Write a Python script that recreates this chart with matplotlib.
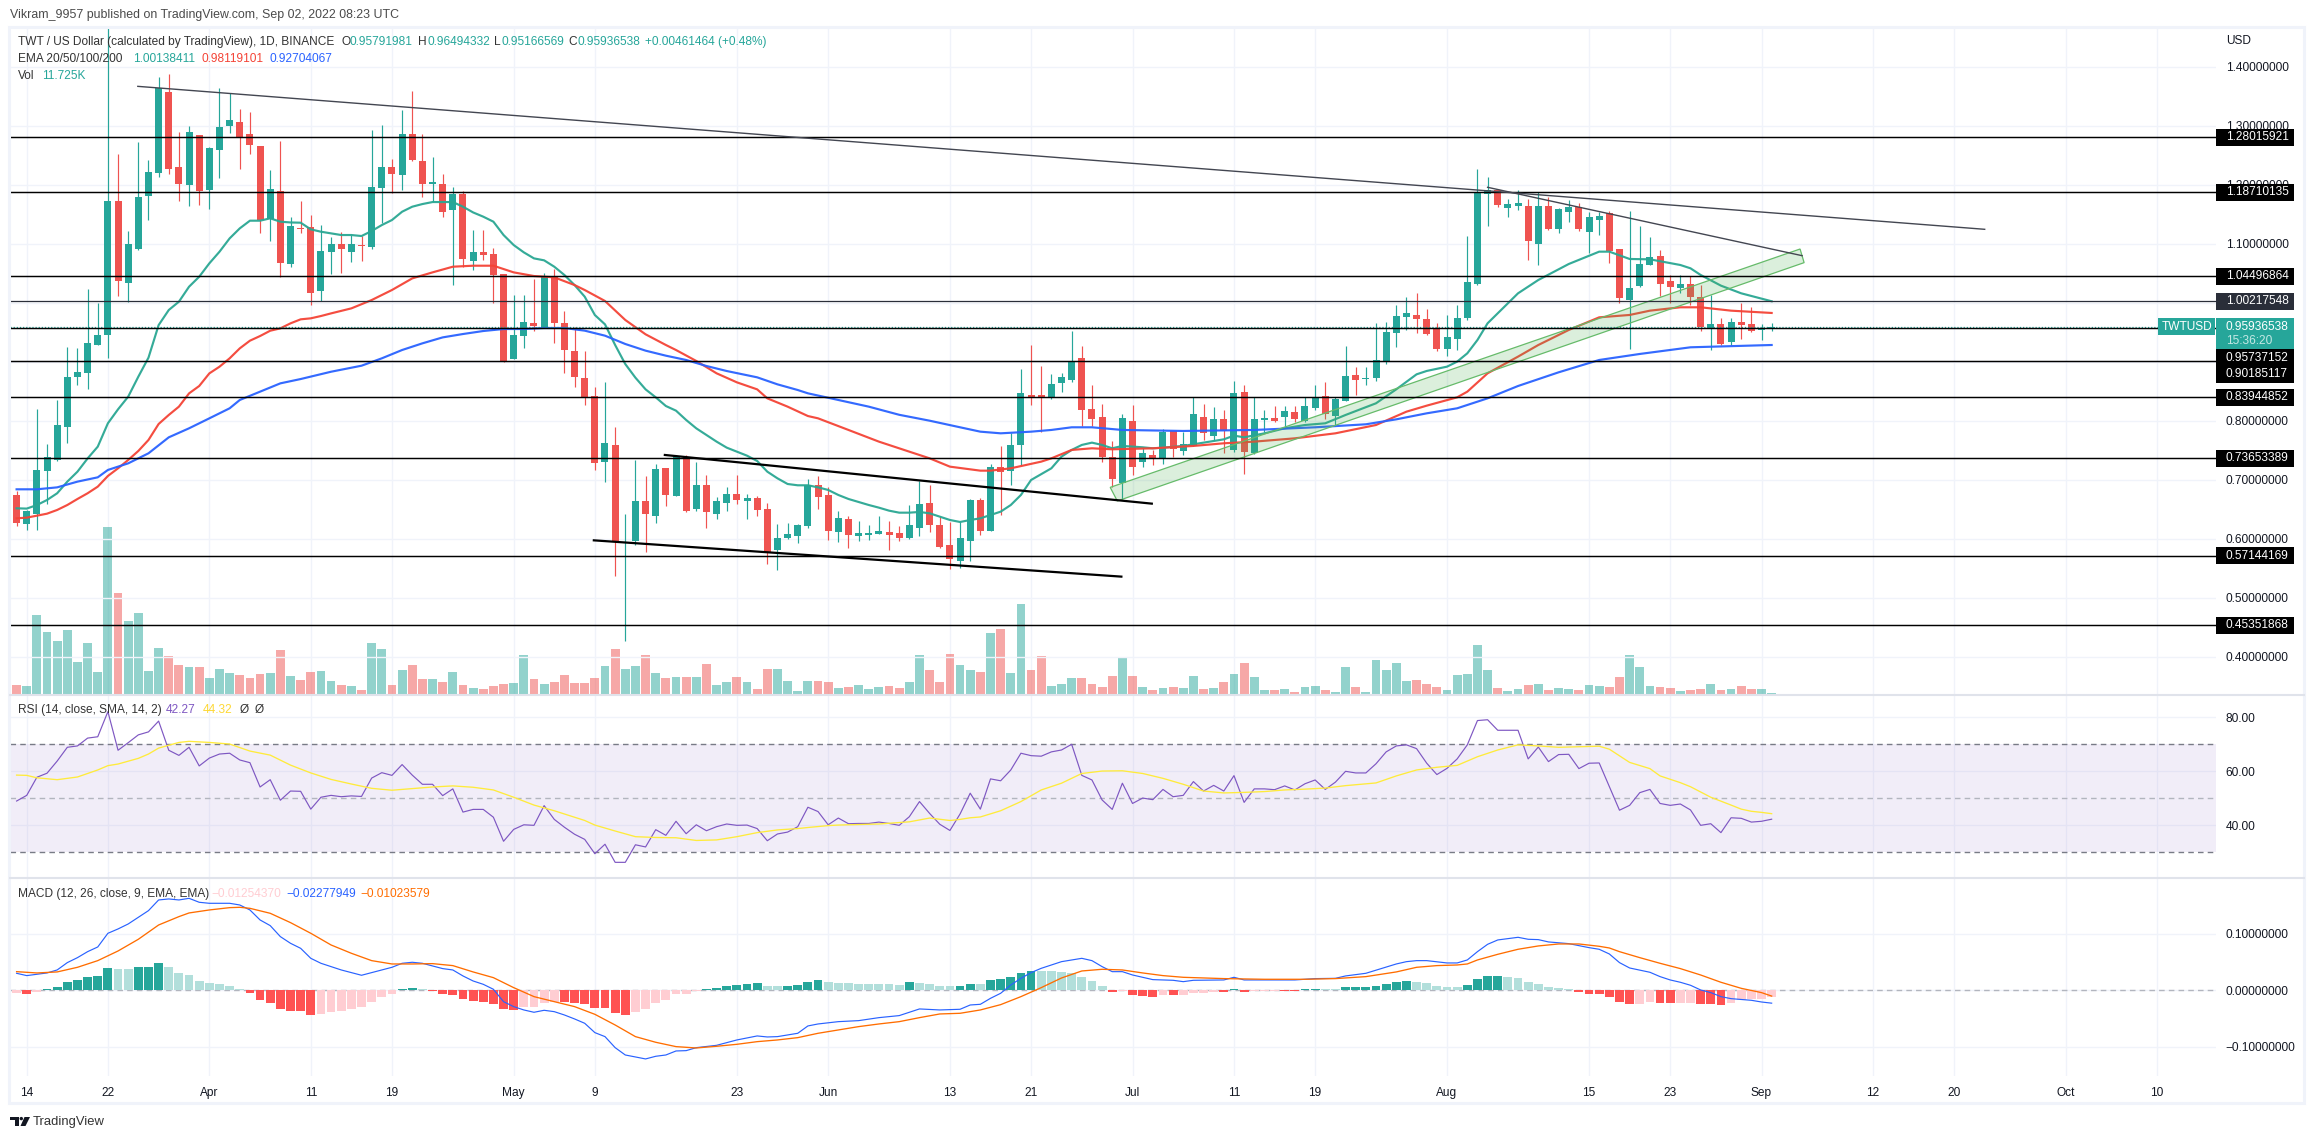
import numpy as np
import matplotlib
matplotlib.use('Agg')
import matplotlib.pyplot as plt
from matplotlib.patches import Rectangle, Circle, Polygon

plt.rcParams['font.family'] = ['Liberation Sans', 'DejaVu Sans']

# daily candles, 13 Mar to 2 Sep 2022
opens = [.674,.625,.642,.715,.733,.790,.8746,.8814,.9288,.9452,1.1723,1.034,1.0915,1.1814,1.2198,1.357,1.230,1.1994,1.284,1.191,
 1.2588,1.2994,1.3062,1.2859,1.2655,1.1418,1.1893,1.0655,1.1266,1.1282,1.0198,1.0859,1.0994,1.0859,1.0972,1.0944,1.1944,1.2299,1.2164,1.2859,
 1.2401,1.2011,1.2011,1.157,1.1842,1.0706,1.0859,1.0825,1.0486,.9051,.9435,.9655,.9576,1.0446,.9655,.918,.8723,.8418,.7306,.7588,
 .592,.5961,.6639,.6385,.7198,.6724,.7385,.6504,.691,.6419,.6605,.6758,.6639,.669,.6504,.5809,.6012,.6046,.6215,.691,
 .6741,.6114,.6334,.6046,.6063,.608,.6114,.6097,.6012,.6181,.6605,.6232,.5893,.5622,.5961,.6656,.613,.7215,.7148,.7588,
 .8435,.8435,.8379,.864,.869,.9063,.8199,.8063,.7385,.695,.7995,.7306,.7419,.7368,.7826,.7487,.7571,.8063,.7741,.8029,
 .7504,.8487,.7453,.8012,.8046,.8069,.8148,.7995,.8216,.8419,.808,.8334,.8775,.8702,.8724,.9012,.9487,.9758,.9792,.9724,
 .9554,.9216,.9385,.9741,1.0317,1.1843,1.191,1.1605,1.164,1.1639,1.0995,1.1639,1.125,1.1538,1.1622,1.1199,1.1402,1.1521,1.091,1.0046,
 1.0283,1.0639,1.0792,1.0368,1.0249,1.0317,1.0097,.9572,.9639,.9334,.9673,.9639,.9532,.95791981]
highs = [.680,.648,.82,.7605,.835,.925,.9226,1.0226,1.0,1.4673,1.252,1.1215,1.272,1.242,1.3825,1.3876,1.2893,1.2994,1.284,1.2644,
 1.3638,1.355,1.3282,1.3232,1.2655,1.2249,1.274,1.1452,1.1723,1.1486,1.1316,1.1107,1.1203,1.114,1.1136,1.2927,1.3011,1.2435,1.3266,1.3593,
 1.2859,1.2469,1.2186,1.196,1.1893,1.1232,1.1232,1.0927,1.0486,1.013,1.013,1.0401,1.0497,1.0576,.9859,.9594,.9181,.8571,.8656,.7893,
 .6419,.7334,.7063,.7266,.7198,.7419,.7419,.73,.708,.6707,.6876,.708,.6758,.6724,.6605,.6249,.6266,.6249,.7012,.7063,
 .6871,.647,.6385,.63,.6232,.6385,.63,.6215,.6571,.6978,.691,.6385,.6283,.6283,.6673,.669,.7266,.7571,.7786,.8876,
 .9283,.8927,.8792,.8803,.9521,.9266,.8605,.8283,.7656,.8114,.8266,.7537,.7504,.786,.7826,.7809,.8402,.8283,.8238,.8182,
 .8673,.8605,.8402,.8182,.8249,.8249,.8249,.8402,.8605,.8656,.8402,.9266,.891,.891,.9656,.9673,.9961,1.0102,1.0165,.9893,
 .9656,.9792,.9961,1.1131,1.2266,1.2137,1.191,1.1758,1.191,1.1758,1.1877,1.1798,1.16,1.1741,1.1685,1.1538,1.1538,1.1555,1.091,1.1555,
 1.13,1.1114,1.0894,1.047,1.047,1.0453,1.03,1.013,.9741,.9741,.9995,.9927,.9639,.96494332]
lows = [.6215,.615,.615,.659,.732,.763,.8605,.8542,.928,.907,1.011,1.002,1.09,1.14,1.213,1.2187,1.1723,1.164,1.1655,1.1588,
 1.2113,1.2876,1.2266,1.252,1.118,1.1045,1.043,1.0605,1.118,.9966,1.0028,1.0486,1.0497,1.0695,1.0706,1.0915,1.1345,1.1864,1.191,1.24,
 1.1791,1.1706,1.1452,1.03,1.061,1.0554,1.0723,.9994,.9,.9045,.923,.952,.9565,.9316,.8808,.8571,.8266,.717,.6967,.5374,
 .4272,.5893,.5775,.6266,.6554,.672,.6453,.647,.6181,.6334,.647,.6588,.6334,.6385,.5571,.5469,.6,.5927,.6181,.6503,
 .5978,.5944,.5843,.5961,.5978,.608,.5809,.5961,.6,.6046,.6114,.585,.5487,.5503,.5622,.6063,.613,.6402,.691,.7249,
 .8266,.7814,.8367,.8481,.8662,.791,.791,.7306,.6882,.6656,.708,.7221,.7249,.7266,.7379,.7419,.7571,.7673,.7673,.7458,
 .747,.7097,.7436,.7809,.7978,.7899,.7978,.7978,.8182,.8029,.791,.8334,.8436,.8605,.8673,.8961,.9249,.9537,.9481,.945,
 .9182,.9097,.9199,.9707,1.03,1.13,1.1622,1.1453,1.1572,1.0724,1.0639,1.124,1.1182,1.1368,1.1216,1.0843,1.1148,1.0673,.9995,.9216,
 1.0266,1.0639,1.0114,.9992,1.0159,.9961,.9521,.9199,.929,.9283,.9391,.9504,.9368,.95166569]
closes = [.6266,.647,.7165,.738,.7927,.874,.8825,.9316,.9452,1.1723,1.0367,1.099,1.179,1.2215,1.3644,1.2266,1.201,1.2893,1.1893,1.2621,
 1.2977,1.3096,1.2802,1.2672,1.1401,1.1927,1.0672,1.13,1.1255,1.0164,1.0876,1.0994,1.091,1.0994,1.0955,1.196,1.2299,1.218,1.2859,1.2418,
 1.2011,1.204,1.1537,1.1842,1.074,1.0859,1.0808,1.0469,.9017,.9452,.9672,.9605,1.0446,.9655,.9198,.874,.8401,.7278,.7622,.5939,
 .595,.6639,.6419,.7181,.6741,.7385,.647,.691,.6453,.6639,.6758,.6656,.669,.6487,.5775,.6012,.608,.6232,.691,.6707,
 .6131,.6351,.6063,.6097,.6097,.613,.6063,.6012,.6232,.6588,.6232,.5859,.5656,.6012,.6656,.613,.7215,.7131,.7588,.8469,
 .8396,.8384,.8622,.8741,.8995,.8182,.8029,.7385,.7012,.8046,.7221,.7453,.7368,.7809,.7521,.7605,.8114,.7792,.8029,.7826,
 .847,.747,.8029,.8046,.7995,.8165,.8029,.8249,.8402,.8114,.8368,.8758,.869,.8724,.9029,.9504,.9775,.9826,.9724,.947,
 .9216,.9419,.9741,1.0351,1.186,1.191,1.1656,1.1673,1.169,1.1046,1.1639,1.125,1.1589,1.1622,1.125,1.1453,1.147,1.0877,1.008,1.025,
 1.0656,1.0775,1.0317,1.0266,1.0317,1.0097,.9589,.9639,.93,.9673,.9622,.9521,.9555,.95936538]
# volume in thousands
volumes = [75,67,635,499,427,515,259,411,179,1339,811,587,651,187,371,307,235,219,219,131,
 203,171,155,131,163,171,355,147,115,179,187,107,75,67,35,411,363,75,195,235,
 123,123,99,179,75,51,43,67,83,91,315,123,83,99,155,91,91,131,227,363,
 203,227,315,171,131,139,139,139,243,75,99,139,99,43,203,203,107,27,107,107,
 99,51,59,75,43,59,67,51,99,315,195,99,323,235,195,179,491,523,171,723,
 195,307,67,83,131,131,83,59,147,291,147,59,35,51,59,51,147,48,56,104,
 168,256,144,40,40,48,24,64,72,40,24,224,64,24,280,200,256,112,120,88,
 64,40,160,168,400,200,56,32,48,80,88,40,56,48,40,80,72,64,144,320,
 224,72,64,56,32,40,48,88,40,48,72,48,48,11.7]

# EMA lines, read at the listed bars
ema20_bars = [0,1,2,3,4,5,6,7,8,9,10,11,12,13,14,15,16,17,18,19,20,21,22,23,24,25,26,27,28,29,30,31,32,33,34,35,36,37,38,39,40,41,42,43,44,45,46,47,48,49,50,51,52,53,54,55,56,57,58,59,60,61,62,63,64,65,66,67,68,69,70,71,72,73,74,75,76,77,78,79,80,81,82,83,84,85,86,87,88,89,90,91,92,93,94,95,96,97,98,99,100,102,103,104,105,106,107,108,109,110,111,112,113,115,117,119,120,121,123,125,127,129,131,134,136,138,139,141,142,143,144,145,148,150,153,156,157,159,161,164,165,166,168,170,173]
ema20 = [.6515,.651,.657,.6656,.677,.6967,.7136,.736,.756,.7956,.8193,.8407,.8746,.9068,.962,.9876,1.0017,1.0271,1.044,1.0667,1.0864,1.109,1.126,1.139,1.139,1.143,1.1373,1.136,1.1356,1.1243,1.1203,1.1175,1.1147,1.1147,1.113,1.1215,1.1316,1.1401,1.1542,1.1627,1.1672,1.1706,1.1706,1.1706,1.1627,1.153,1.1458,1.1373,1.1147,1.0977,1.0853,1.0751,1.0718,1.061,1.0469,1.0299,1.0102,.9791,.9633,.9283,.896,.8729,.8531,.8396,.8249,.817,.8012,.787,.7758,.7645,.7543,.7475,.7407,.7317,.7136,.7023,.6927,.6905,.6905,.687,.6826,.6741,.6673,.6622,.6571,.6526,.6475,.6441,.6441,.6453,.643,.6374,.6317,.6283,.6317,.6345,.6402,.6458,.6571,.6741,.6995,.7193,.7391,.7504,.7589,.7628,.7589,.7532,.7572,.756,.7549,.7532,.7543,.7572,.7628,.7684,.7747,.7718,.7786,.7871,.7927,.7956,.8097,.8295,.8532,.8786,.8843,.8916,.9001,.9142,.9368,.9651,1.0159,1.0385,1.0656,1.0865,1.0865,1.0741,1.0735,1.0639,1.0583,1.047,1.0289,1.0159,1.0024]
ema50_bars = [0,1,2,3,4,5,6,7,8,9,10,11,12,13,14,15,16,17,18,19,20,21,22,23,24,25,26,27,28,29,30,31,33,35,37,39,41,43,45,47,49,51,53,55,56,58,60,62,64,65,67,69,71,73,74,76,78,79,82,85,88,90,92,95,96,98,101,102,104,106,108,112,116,119,122,126,130,134,137,139,142,143,145,148,150,153,156,159,161,164,166,169,173]
ema50 = [.6345,.6357,.639,.6424,.6487,.6571,.6673,.677,.6882,.7063,.7193,.7334,.7487,.7673,.7944,.8097,.8238,.8463,.8588,.8802,.8915,.9057,.9226,.9356,.9435,.9525,.9565,.965,.9718,.9735,.9774,.9819,.9904,1.0045,1.0215,1.0412,1.0514,1.061,1.0627,1.0627,1.0514,1.0452,1.043,1.0299,1.0215,1.0029,.9707,.9464,.9283,.9198,.9012,.8803,.865,.8531,.8379,.8238,.8079,.804,.7843,.7645,.7475,.7362,.7221,.7153,.7153,.7193,.7306,.7362,.7504,.7532,.7515,.7532,.7572,.7617,.7645,.7701,.7786,.7927,.8153,.8255,.8396,.8492,.8803,.9086,.9283,.9538,.9752,.9792,.9865,.9922,.9922,.9865,.9826]
ema200_bars = [0,2,4,6,8,9,11,13,15,17,19,21,22,24,26,28,31,34,36,38,40,42,44,46,48,50,52,54,56,58,60,62,64,66,68,70,73,75,77,78,81,84,87,90,93,95,97,100,102,104,106,109,115,122,128,133,136,139,142,145,148,152,156,160,165,173]
ema200 = [.6837,.6837,.687,.6967,.704,.7165,.7277,.7447,.7718,.7871,.804,.821,.8351,.8492,.8633,.8706,.883,.8932,.9057,.9198,.9311,.9412,.9469,.952,.9554,.9554,.9571,.9571,.9526,.9441,.93,.9187,.9102,.9029,.8927,.8842,.8735,.8616,.852,.8464,.8351,.8238,.81,.8,.7888,.7814,.7786,.7814,.7843,.7888,.7888,.7843,.7826,.7843,.7888,.7939,.8023,.8125,.821,.8379,.8588,.882,.9029,.9131,.9244,.9283]

# RSI and its moving average
rsi = [49.0,51.1,57.8,59.3,63.8,68.9,69.4,72.3,72.8,82.1,67.8,70.6,73.5,74.6,78.6,67.8,65.9,68.9,62.0,64.9,
 66.4,66.7,64.2,63.2,54.2,56.9,49.3,52.7,52.6,46.0,50.4,51.1,50.6,50.9,50.7,57.5,59.5,58.5,62.5,58.6,
 55.2,55.2,51.0,53.5,44.9,45.9,45.9,43.0,34.1,38.5,40.2,40.0,47.3,42.2,39.3,36.7,34.8,29.5,33.0,26.3,
 26.3,32.8,32.0,38.4,36.3,41.5,36.9,40.2,38.0,39.5,40.5,40.0,40.1,38.8,34.3,36.8,37.5,39.5,46.7,45.1,
 40.2,42.7,40.6,40.7,40.7,41.2,40.7,40.0,43.2,48.8,44.4,40.4,38.1,44.2,51.9,46.0,57.2,56.5,60.5,66.7,
 65.8,65.6,67.2,67.9,70.0,58.5,56.8,49.4,45.9,55.6,48.1,50.1,49.5,53.3,50.6,51.1,56.2,52.7,54.8,52.7,
 58.4,48.5,53.5,53.5,53.2,54.6,53.1,55.4,56.8,53.3,56.0,60.0,59.4,59.4,62.8,67.2,69.4,69.8,68.4,63.0,
 58.8,61.1,64.6,69.8,78.8,79.1,75.2,75.2,75.2,64.6,69.0,63.6,66.2,66.3,61.0,63.0,63.1,54.3,45.6,47.4,
 52.1,53.3,48.1,47.4,47.9,45.7,40.0,40.6,37.3,42.8,42.6,41.2,41.5,42.27]
rsi_ma_bars = [0,1,2,4,6,8,9,10,12,13,14,16,17,19,21,23,25,27,29,31,33,35,37,39,41,43,45,47,49,51,53,55,56,57,59,61,63,65,67,69,71,73,75,77,78,80,81,85,88,90,92,93,94,95,97,99,101,103,105,107,109,111,113,115,117,119,121,123,125,127,129,131,134,136,138,140,142,144,146,148,150,152,154,156,157,159,161,162,164,165,167,169,170,171,172,173]
rsi_ma = [58.6,58.5,57.6,56.9,57.9,60.5,62.1,62.7,64.8,66.4,68.6,70.7,71.1,70.7,70.1,67.5,66.0,62.3,59.4,57.0,55.3,53.7,53.0,53.6,54.2,54.6,54.1,53.1,50.4,47.5,45.4,43.0,41.8,40.1,37.9,35.8,35.5,35.4,34.4,34.6,35.8,37.3,38.3,38.8,39.2,39.9,40.1,40.5,41.3,42.7,41.8,42.2,42.8,43.1,45.4,48.8,53.1,55.6,59.2,60.1,60.2,59.2,57.4,55.2,52.7,52.0,52.2,52.5,53.1,53.4,53.8,54.7,55.7,58.3,60.5,61.5,62.2,65.4,67.9,69.8,69.4,68.9,69.1,69.3,68.2,63.3,61.0,58.3,55.8,54.3,50.4,47.5,46.0,45.2,44.8,44.32]

# MACD histogram and lines
macd_hist = [-.0053,-.0065,-.0030,.0024,.0059,.0148,.0183,.0236,.0254,.0395,.0378,.0375,.0413,.0416,.0484,.0413,.0307,.0271,.0165,.0130,
 .0112,.0077,.0024,-.0047,-.0171,-.0224,-.0330,-.0366,-.0369,-.0437,-.0419,-.0384,-.0366,-.0330,-.0295,-.0207,-.0118,-.0065,.0024,.0041,
 .0024,-.0006,-.0065,-.0083,-.0153,-.0189,-.0207,-.0242,-.0330,-.0348,-.0295,-.0289,-.0224,-.0207,-.0212,-.0227,-.0242,-.0313,-.0319,-.0401,
 -.0437,-.0384,-.0330,-.0224,-.0171,-.0065,-.0059,-.0012,.0024,.0041,.0077,.0094,.0112,.0130,.0077,.0074,.0077,.0094,.0148,.0183,
 .0148,.0130,.0124,.0112,.0109,.0106,.0103,.0100,.0148,.0130,.0112,.0077,.0071,.0077,.0112,.0106,.0183,.0201,.0236,.0307,
 .0342,.0339,.0336,.0319,.0307,.0236,.0165,.0077,-.0030,-.0012,-.0083,-.0100,-.0118,-.0083,-.0089,-.0083,-.0047,-.0044,-.0030,-.0035,
 .0024,-.0030,-.0012,-.0009,-.0006,-.0012,-.0018,.0024,.0027,.0024,.0020,.0059,.0062,.0065,.0077,.0112,.0148,.0165,.0148,.0130,
 .0077,.0059,.0057,.0094,.0201,.0254,.0257,.0236,.0218,.0148,.0112,.0059,.0041,.0024,-.0024,-.0059,-.0062,-.0112,-.0207,-.0242,
 -.0236,-.0207,-.0224,-.0230,-.0224,-.0221,-.0242,-.0245,-.0260,-.0224,-.0171,-.0153,-.0148,-.0125]
macd_bars = [0,1,3,4,5,6,7,8,9,10,11,12,13,14,15,16,17,18,19,21,22,23,24,25,26,27,28,29,30,32,34,36,37,38,39,40,42,43,44,45,46,47,48,49,50,51,52,53,54,55,56,57,58,59,60,61,62,63,64,65,66,67,69,71,73,74,75,77,78,79,81,83,85,87,89,91,93,94,95,96,97,98,99,100,101,103,105,106,107,108,109,110,112,114,115,116,119,120,121,124,126,128,130,131,133,136,137,138,139,141,142,143,144,145,146,147,148,149,150,151,153,155,156,157,158,159,161,162,163,164,165,166,167,168,169,171,172,173]
macd_line = [.0301,.0260,.0307,.0360,.0490,.0578,.0684,.0767,.1009,.1086,.1174,.1292,.1410,.1599,.1617,.1599,.1628,.1558,.1540,.1540,.1510,.1422,.1245,.1145,.0950,.0832,.0743,.0566,.0478,.0360,.0266,.0360,.0407,.0478,.0496,.0478,.0384,.0360,.0254,.0165,.0106,.0018,-.0201,-.0289,-.0348,-.0389,-.0354,-.0378,-.0437,-.0507,-.0584,-.0749,-.0820,-.1015,-.1145,-.1180,-.1215,-.1168,-.1145,-.1074,-.1068,-.1015,-.0974,-.0879,-.0808,-.0826,-.0820,-.0761,-.0631,-.0596,-.0555,-.0537,-.0484,-.0448,-.0330,-.0348,-.0336,-.0260,-.0248,-.0142,-.0053,.0094,.0212,.0313,.0389,.0507,.0566,.0525,.0419,.0330,.0330,.0271,.0189,.0177,.0153,.0177,.0183,.0230,.0183,.0183,.0183,.0207,.0212,.0254,.0301,.0466,.0507,.0525,.0525,.0484,.0484,.0537,.0684,.0814,.0891,.0915,.0938,.0903,.0897,.0856,.0826,.0755,.0726,.0643,.0490,.0395,.0319,.0242,.0183,.0142,.0089,.0006,-.0041,-.0112,-.0148,-.0177,-.0207,-.02277949]
signal_bars = [0,2,4,6,8,10,12,14,16,17,19,21,22,23,25,27,29,31,33,35,37,39,41,43,45,47,49,51,53,55,57,59,61,63,65,67,69,71,73,75,77,79,81,83,85,87,89,91,93,95,97,99,101,103,105,107,109,111,113,115,119,123,127,130,133,136,138,140,142,143,144,146,148,150,152,154,156,157,158,160,162,164,166,168,170,172,173]
signal_line = [.0330,.0307,.0325,.0407,.0525,.0696,.0903,.1156,.1304,.1369,.1422,.1463,.1469,.1451,.1363,.1198,.1009,.0802,.0655,.0525,.0466,.0466,.0472,.0437,.0325,.0224,.0047,-.0112,-.0201,-.0289,-.0425,-.0614,-.0820,-.0920,-.0997,-.1021,-.0991,-.0956,-.0909,-.0879,-.0838,-.0761,-.0702,-.0643,-.0596,-.0555,-.0484,-.0419,-.0407,-.0348,-.0254,-.0112,.0047,.0218,.0342,.0372,.0360,.0307,.0260,.0230,.0207,.0195,.0195,.0207,.0242,.0325,.0407,.0437,.0448,.0466,.0537,.0637,.0726,.0785,.0820,.0820,.0779,.0749,.0684,.0578,.0478,.0384,.0271,.0142,.0035,-.0041,-.01023579]

# horizontal levels and where their labels sit
levels = [1.28015921,1.18710135,1.04496864,.95737152,.90185117,.83944852,.73653389,.57144169,.45351868]
level_label_pos = [1.28015921,1.18710135,1.04496864,.9071,.8783,.83944852,.73653389,.57144169,.45351868]
grey_level = 1.00217548
last_price = 0.95936538

# drawn trend lines as (bar, price) ends
thin_trends = [([11.95,194],[1.3667,1.1244]),([145,176],[1.1956,1.0797])]
thick_trends = [([63.9,111.9],[.7419,.6594]),([56.9,108.9],[.5972,.5357])]
channel_bars = [107.8,175.8,176.2,108.5]
channel_prices = [.687,1.091,1.0679,.6639]

date_bars = [1,9,19,29,37,49,57,71,80,92,100,110,120,128,141,155,163,172,183,191,202,211]
date_labels = ['14','22','Apr','11','19','May','9','23','Jun','13','21','Jul','11','19','Aug','15','23','Sep','12','20','Oct','10']
price_ticks = [.4,.5,.6,.7,.8,.9,1.0,1.1,1.2,1.3,1.4]

UP = '#26a69a'
DOWN = '#ef5350'
GRID = '#f0f3fa'
TEXT = '#131722'
W, H = 2314, 1139
FS = 8.6

fig = plt.figure(figsize=(W / 100, H / 100), dpi=100, facecolor='white')

def pane(top, bottom, z=1):
    a = fig.add_axes([10 / W, 1 - bottom / H, 2206 / W, (bottom - top) / H], zorder=z)
    a.set_xlim(-0.65, 216.8)
    a.patch.set_visible(False)
    for s in a.spines.values():
        s.set_visible(False)
    a.yaxis.tick_right()
    a.tick_params(axis='both', length=0, labelsize=FS, labelcolor=TEXT, pad=7)
    a.set_xticks(date_bars)
    a.grid(True, color=GRID, lw=1.0)
    a.set_axisbelow(True)
    return a

bars = np.arange(len(closes))
o, hi, lo, c = map(np.array, (opens, highs, lows, closes))
up = c >= o
colors = np.where(up, UP, DOWN)

# volume sits under the price pane
ax_vol = pane(27, 694.5, z=0)
ax_vol.set_ylim(0, 5340)
ax_vol.set_yticks([])
ax_vol.tick_params(labelbottom=False)
ax_vol.bar(bars, volumes, width=0.87, color=colors, alpha=0.5, lw=0)

ax = pane(27, 694.5, z=1)
ax.set_ylim(0.3359, 1.4673)
ax.set_yticks(price_ticks)
ax.set_yticklabels(['%.8f' % t for t in price_ticks])
ax.tick_params(labelbottom=False)
ax.grid(False, axis='x')
ax.vlines(bars, lo, hi, colors=colors, lw=0.85, zorder=2)
ax.bar(bars, np.maximum(np.abs(c - o), 0.0012), bottom=np.minimum(o, c), width=0.69, color=colors, lw=0, zorder=2.2)
ax.plot(ema20_bars, ema20, color='#2aa793', lw=1.55, zorder=3, alpha=0.95)
ax.plot(ema50_bars, ema50, color='#f44336', lw=1.55, zorder=3.1, alpha=0.95)
ax.plot(ema200_bars, ema200, color='#2962ff', lw=1.55, zorder=3.2, alpha=0.95)
ax.fill(channel_bars, channel_prices, fc=(0.298, 0.686, 0.314, 0.2), ec='#66bb6a', lw=0.9, zorder=3.5)
ax.axhline(last_price, color=UP, lw=0.9, ls=(0, (1, 1.5)), zorder=4)
for lv in levels:
    ax.axhline(lv, color='black', lw=1.05, zorder=4)
ax.axhline(grey_level, color='#2a2e39', lw=0.9, zorder=4)
for xs, ys in thin_trends:
    ax.plot(xs, ys, color='#434651', lw=1.0, zorder=4.5)
for xs, ys in thick_trends:
    ax.plot(xs, ys, color='black', lw=1.6, zorder=4.5)

# price boxes on the right axis
trans = ax.get_yaxis_transform()
box_w = 78 / 2206
box_h = 17 / 590
text_x = 1 + 10 / 2206
for lv, pos in zip(levels, level_label_pos):
    ax.add_patch(Rectangle((1, pos - box_h / 2), box_w, box_h, transform=trans, fc='black', ec='none', clip_on=False, zorder=6))
    ax.text(text_x, pos, '%.8f' % lv, transform=trans, color='white', fontsize=FS, va='center', ha='left', zorder=7)
ax.add_patch(Rectangle((1, grey_level - box_h / 2), box_w, box_h, transform=trans, fc='#2a2e39', ec='none', clip_on=False, zorder=6))
ax.text(text_x, grey_level, '%.8f' % grey_level, transform=trans, color='white', fontsize=FS, va='center', ha='left', zorder=7)
ax.add_patch(Rectangle((1, 0.9215), box_w, 0.0526, transform=trans, fc=UP, ec='none', clip_on=False, zorder=6))
ax.text(text_x, last_price, '%.8f' % last_price, transform=trans, color='white', fontsize=FS, va='center', ha='left', zorder=7)
ax.text(text_x, 0.9356, '15:36:20', transform=trans, color='#c4e8e4', fontsize=FS, va='center', ha='left', zorder=7)
ax.add_patch(Rectangle((0.9739, 0.9448), 1 - 0.9739 - 0.0005, 0.0293, transform=trans, fc=UP, ec='none', zorder=6))
ax.text(0.9868, last_price, 'TWTUSD', transform=trans, color='white', fontsize=FS, va='center', ha='center', zorder=7)

# RSI pane
ax_rsi = pane(695, 878)
ax_rsi.set_ylim(20.5, 88.26)
ax_rsi.set_yticks([40, 60, 80])
ax_rsi.set_yticklabels(['40.00', '60.00', '80.00'])
ax_rsi.tick_params(labelbottom=False)
ax_rsi.axhspan(30, 70, color='#7e57c2', alpha=0.1, lw=0)
ax_rsi.axhline(70, color='#787b86', lw=1.0, ls=(0, (4, 3)))
ax_rsi.axhline(30, color='#787b86', lw=1.0, ls=(0, (4, 3)))
ax_rsi.axhline(50, color='#b2b5be', lw=1.0, ls=(0, (4, 3)))
ax_rsi.plot(bars, rsi, color='#7e57c2', lw=0.85)
ax_rsi.plot(rsi_ma_bars, rsi_ma, color='#ffeb3b', lw=0.95)

# MACD pane
ax_macd = pane(879, 1076)
ax_macd.set_ylim(-0.1517, 0.197)
ax_macd.set_yticks([-0.1, 0, 0.1])
ax_macd.set_yticklabels(['\u22120.10000000', '0.00000000', '0.10000000'])
ax_macd.set_xticklabels(date_labels)
ax_macd.tick_params(axis='x', pad=8)
ax_macd.axhline(0, color='#b2b5be', lw=1.0, ls=(0, (4, 3)))
hist_colors = []
prev = None
for v in macd_hist:
    rising = prev is None or v > prev
    if v >= 0:
        hist_colors.append('#26a69a' if rising else '#b2dfdb')
    else:
        hist_colors.append('#ffcdd2' if rising else '#ff5252')
    prev = v
ax_macd.bar(bars, macd_hist, width=0.87, color=hist_colors, lw=0, zorder=2)
ax_macd.plot(macd_bars, macd_line, color='#2962ff', lw=0.85, zorder=3)
ax_macd.plot(signal_bars, signal_line, color='#ff6d00', lw=0.95, zorder=3)

# overlay in pixels for the legends, frame and footer
ov = fig.add_axes([0, 0, 1, 1], zorder=10)
ov.set_xlim(0, W)
ov.set_ylim(H, 0)
ov.axis('off')
ov.add_patch(Rectangle((9, 27), 2295, 1076, fill=False, ec=GRID, lw=2.2))
ov.plot([10, 2304], [694.5, 694.5], color='#e0e3eb', lw=1.5)
ov.plot([10, 2304], [878, 878], color='#e0e3eb', lw=1.5)

def label(x, y, s, color=TEXT, size=FS):
    ov.text(x, y, s, color=color, fontsize=size, va='center', ha='left')

label(10, 15, 'Vikram_9957 published on TradingView.com, Sep 02, 2022 08:23 UTC', color='#4a4a4a', size=8.9)
label(18, 42, 'TWT / US Dollar (calculated by TradingView), 1D, BINANCE', color='#333')
for x, s in [(342, 'O'), (418, 'H'), (494, 'L'), (568, 'C')]:
    label(x, 42, s, color='#333')
for x, s in [(350, '0.95791981'), (427, '0.96494332'), (501, '0.95166569'), (578, '0.95936538'), (645, '+0.00461464 (+0.48%)')]:
    label(x, 42, s, color=UP)
label(18, 59, 'EMA 20/50/100/200', color='#333')
label(133, 59, '1.00138411', color=UP)
label(201, 59, '0.98119101', color='#f44336')
label(269, 59, '0.92704067', color='#2962ff')
label(18, 76, 'Vol', color='#333')
label(42, 76, '11.725K', color=UP)
label(2226, 41, 'USD')

label(18, 710, 'RSI (14, close, SMA, 14, 2)', color='#333')
label(166, 710, '42.27', color='#7e57c2')
label(203, 710, '44.32', color='#fdd835')
label(240, 710, '\u00d8', color='#333')
label(255, 710, '\u00d8', color='#333')

label(18, 894, 'MACD (12, 26, close, 9, EMA, EMA)', color='#333')
label(211, 894, '\u22120.01254370', color='#ffcdd2')
label(286, 894, '\u22120.02277949', color='#2962ff')
label(360, 894, '\u22120.01023579', color='#ff6d00')

# TradingView logo and name
ov.add_patch(Polygon([(10, 1117), (18.5, 1117), (18.5, 1126), (15, 1126), (15, 1120.2), (10, 1120.2)], fc='#131722', ec='none'))
ov.add_patch(Circle((21.3, 1118.6), 1.7, fc='#131722', ec='none'))
ov.add_patch(Polygon([(24.5, 1117), (30, 1117), (25.5, 1126), (20.5, 1126)], fc='#131722', ec='none'))
label(33, 1122, 'TradingView', color='#333', size=9.4)

fig.savefig('out.png', dpi=100)
